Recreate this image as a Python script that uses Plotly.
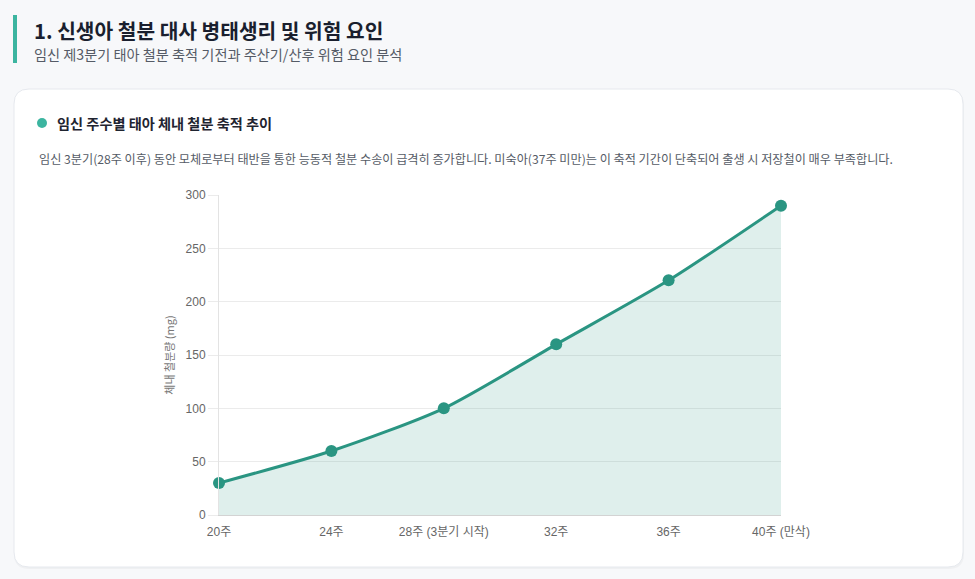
import plotly.graph_objects as go

W, H = 975, 579

weeks = ["20주", "24주", "28주 (3분기 시작)", "32주", "36주", "40주 (만삭)"]
iron_mg = [30, 60, 100, 160, 220, 290]
y_ticks = [0, 50, 100, 150, 200, 250, 300]

page_title = "1. 신생아 철분 대사 병태생리 및 위험 요인"
page_subtitle = "임신 제3분기 태아 철분 축적 기전과 주산기/산후 위험 요인 분석"
card_title = "임신 주수별 태아 체내 철분 축적 추이"
card_desc = ("임신 3분기(28주 이후) 동안 모체로부터 태반을 통한 능동적 철분 수송이 급격히 증가합니다. "
             "미숙아(37주 미만)는 이 축적 기간이 단축되어 출생 시 저장철이 매우 부족합니다.")
y_title = "체내 철분량 (mg)"

TEAL = "#2a9582"
ACCENT = "#3cb5a0"
FONT = "Noto Sans CJK KR"


def px(x):
    return x / W


def py(y):
    return 1 - y / H


def rounded_rect(x0, y0, x1, y1, r):
    # path in paper coords, from pixel box
    pts = [
        f"M {px(x0 + r)} {py(y0)}",
        f"L {px(x1 - r)} {py(y0)}",
        f"Q {px(x1)} {py(y0)} {px(x1)} {py(y0 + r)}",
        f"L {px(x1)} {py(y1 - r)}",
        f"Q {px(x1)} {py(y1)} {px(x1 - r)} {py(y1)}",
        f"L {px(x0 + r)} {py(y1)}",
        f"Q {px(x0)} {py(y1)} {px(x0)} {py(y1 - r)}",
        f"L {px(x0)} {py(y0 + r)}",
        f"Q {px(x0)} {py(y0)} {px(x0 + r)} {py(y0)}",
        "Z",
    ]
    return " ".join(pts)


fig = go.Figure()
fig.add_trace(go.Scatter(
    x=weeks, y=iron_mg,
    mode="lines+markers",
    line=dict(color=TEAL, width=3, shape="spline", smoothing=0.7),
    marker=dict(color=TEAL, size=12),
    fill="tozeroy",
    fillcolor="rgba(42,149,130,0.15)",
    cliponaxis=False,
    hoverinfo="x+y",
))

shapes = [
    # card shadow + card
    dict(type="path", xref="paper", yref="paper",
         path=rounded_rect(14, 90, 964, 569, 15),
         fillcolor="rgba(0,0,0,0.03)", line=dict(width=0), layer="below"),
    dict(type="path", xref="paper", yref="paper",
         path=rounded_rect(14, 89, 963, 567, 15),
         fillcolor="white", line=dict(color="#e6e9ee", width=1), layer="below"),
    # accent bar next to the page title
    dict(type="rect", xref="paper", yref="paper",
         x0=px(13), x1=px(17), y0=py(63), y1=py(15),
         fillcolor=ACCENT, line=dict(width=0)),
    # dot before the card title
    dict(type="circle", xref="paper", yref="paper",
         x0=px(37), x1=px(47), y0=py(128), y1=py(118),
         fillcolor=ACCENT, line=dict(width=0)),
]

annotations = [
    dict(text=f"<b>{page_title}</b>", x=px(32), y=py(30), font=dict(size=20.3, color="#1a1f2e")),
    dict(text=page_subtitle, x=px(32), y=py(54), font=dict(size=14.2, color="#555b66")),
    dict(text=f"<b>{card_title}</b>", x=px(55), y=py(123), font=dict(size=14.2, color="#1f2430")),
    dict(text=card_desc, x=px(37), y=py(158), font=dict(size=12.15, color="#555b66")),
]
for a in annotations:
    a.update(xref="paper", yref="paper", xanchor="left", yanchor="middle", showarrow=False)

fig.update_layout(
    width=W, height=H,
    margin=dict(l=0, r=0, t=0, b=0),
    paper_bgcolor="#f7f8fa",
    plot_bgcolor="rgba(0,0,0,0)",
    font=dict(family=FONT, color="#666666"),
    showlegend=False,
    shapes=shapes,
    annotations=annotations,
)
fig.update_xaxes(
    domain=[px(219), px(781)],
    range=[0, len(weeks) - 1],
    automargin=False,
    showgrid=False, zeroline=False,
    showline=True, linecolor="#d3d3d3", linewidth=1,
    ticks="outside", ticklen=6, tickcolor="rgba(0,0,0,0)",
    tickfont=dict(size=12, color="#666666", family="Liberation Sans, " + FONT),
    fixedrange=True,
)
fig.update_yaxes(
    domain=[py(515), py(195)],
    range=[0, 300],
    tickvals=y_ticks,
    automargin=False,
    showgrid=True, gridcolor="#ebebeb", gridwidth=1,
    zeroline=False,
    showline=True, linecolor="#e3e3e3", linewidth=1,
    ticks="outside", ticklen=10, tickcolor="#ebebeb",
    tickfont=dict(size=12, color="#666666", family="Liberation Sans, " + FONT),
    title=dict(text=y_title, font=dict(size=11, color="#777777"), standoff=8),
    fixedrange=True,
)

fig.write_html("out.html", config={"displayModeBar": False},
               post_script="document.body.style.margin='0';")
